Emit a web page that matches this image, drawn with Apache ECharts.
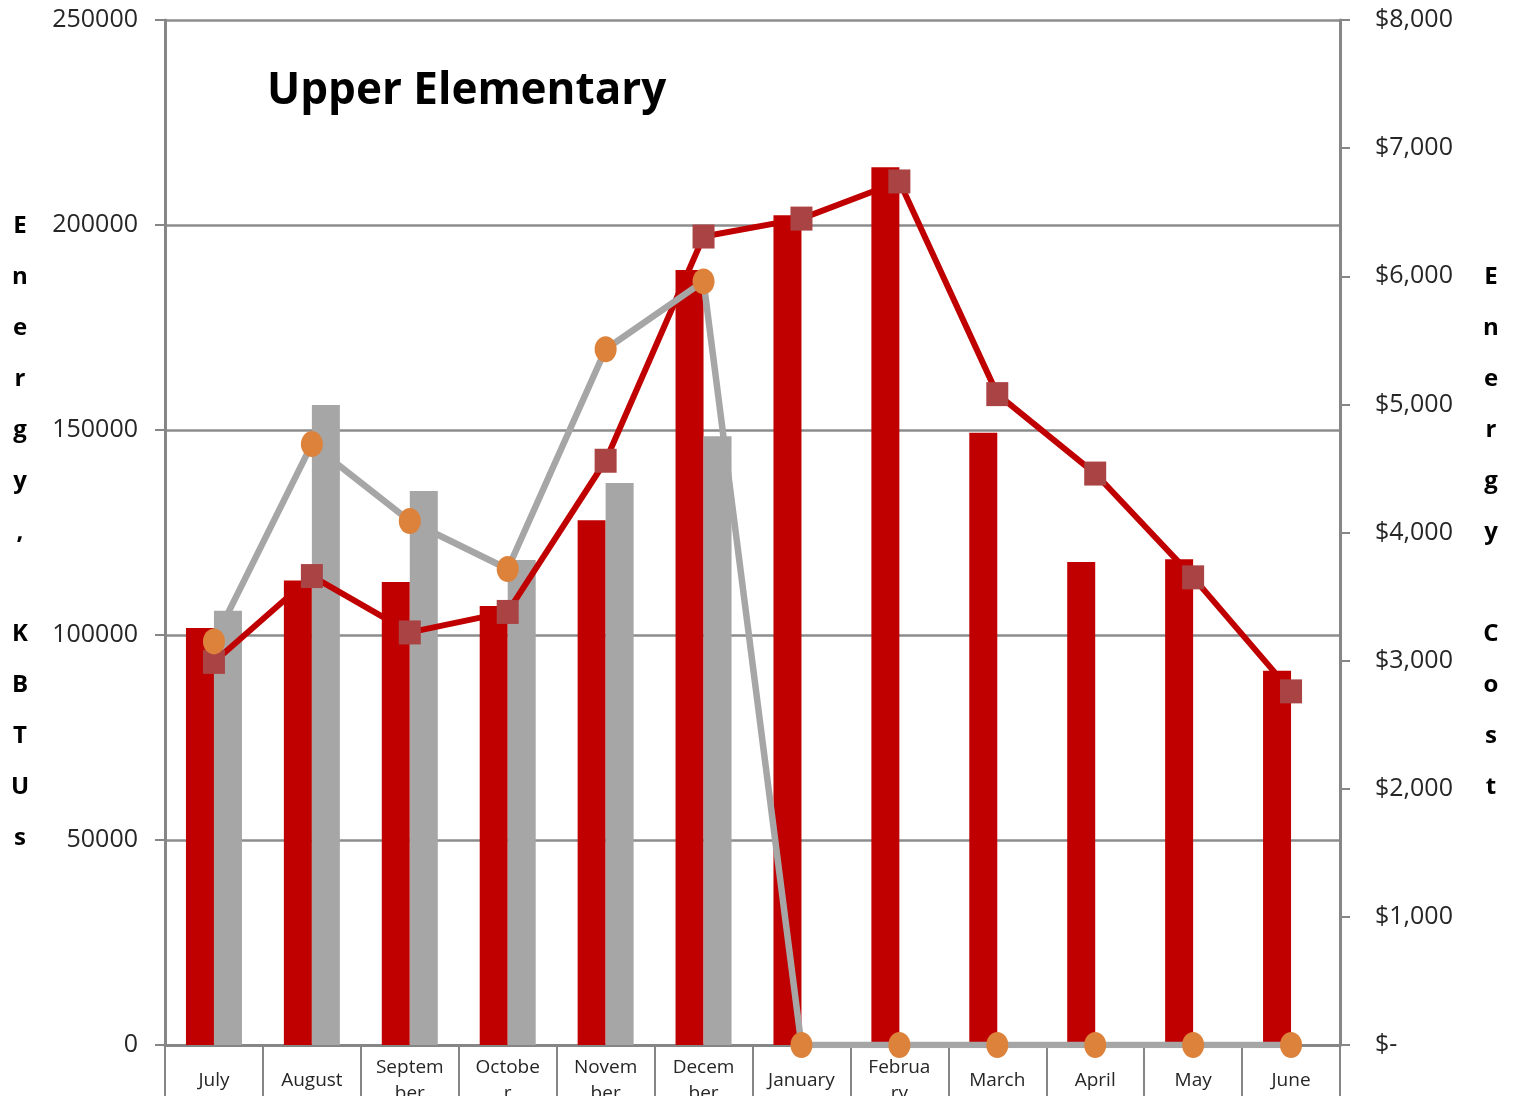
<!DOCTYPE html>
<html>
<head>
<meta charset="utf-8">
<script src="https://cdn.jsdelivr.net/npm/echarts@6/dist/echarts.min.js"></script>
<style>
  html, body { margin: 0; padding: 0; background: #fff; }
  #main { width: 1519px; height: 1096px; }
</style>
</head>
<body>
<div id="main"></div>
<script>
var months = ['July', 'August', 'Septem\nber', 'Octobe\nr', 'Novem\nber', 'Decem\nber', 'January', 'Februa\nry', 'March', 'April', 'May', 'June'];
// energy use, KBTUs
var kbtuThisYear = [101700, 113300, 112900, 107100, 128000, 189000, 202400, 214100, 149300, 117800, 118500, 91300];
var kbtuLastYear = [105900, 156100, 135100, 118300, 137100, 148500, 0, 0, 0, 0, 0, 0];
// energy cost, dollars
var costThisYear = [2990, 3660, 3220, 3380, 4560, 6310, 6450, 6740, 5080, 4460, 3650, 2760];
var costLastYear = [3150, 4690, 4090, 3715, 5430, 5960, 0, 0, 0, 0, 0, 0];

var myChart = echarts.init(document.getElementById('main'));
var axisGray = '#868686';
var labelFont = '"Open Sans", sans-serif';

option = {
    animation: false,
    title: {
        text: 'Upper Elementary',
        left: 262,
        top: 64,
        textStyle: {
            fontFamily: labelFont,
            fontWeight: 'bold',
            fontSize: 44,
            color: '#000'
        }
    },
    grid: {
        left: 165,
        right: 179,
        top: 20,
        bottom: 51,
        containLabel: false,
        outerBoundsMode: 'none'
    },
    xAxis: [
        {
            type: 'category',
            data: months,
            boundaryGap: true,
            axisLine: { lineStyle: { color: axisGray, width: 3 } },
            axisTick: { show: true, length: 60, lineStyle: { color: axisGray, width: 2 } },
            axisLabel: {
                interval: 0,
                margin: 36,
                verticalAlign: 'middle',
                lineHeight: 26,
                fontFamily: labelFont,
                fontSize: 19,
                color: '#262626'
            }
        }
    ],
    yAxis: [
        {
            type: 'value',
            min: 0,
            max: 250000,
            interval: 50000,
            name: 'E\nn\ne\nr\ng\ny\n,\n \nK\nB\nT\nU\ns',
            nameLocation: 'middle',
            nameRotate: 0,
            nameGap: 145,
            nameTextStyle: {
                fontFamily: labelFont,
                fontWeight: 'bold',
                fontSize: 24,
                lineHeight: 51,
                align: 'center',
                verticalAlign: 'middle',
                padding: [12, 0, 0, 0],
                color: '#000'
            },
            axisLine: { show: true, lineStyle: { color: axisGray, width: 3 } },
            axisTick: { show: true, length: 10, lineStyle: { color: axisGray, width: 2 } },
            axisLabel: {
                margin: 27,
                fontFamily: labelFont,
                fontSize: 25,
                color: '#262626',
                formatter: function (v) {
                    return String(v);
                }
            },
            splitLine: { lineStyle: { color: '#8c8c8c', width: 2.5 } }
        },
        {
            type: 'value',
            min: 0,
            max: 8000,
            interval: 1000,
            position: 'right',
            name: 'E\nn\ne\nr\ng\ny\n \nC\no\ns\nt',
            nameLocation: 'middle',
            nameRotate: 0,
            nameGap: 151,
            nameTextStyle: {
                fontFamily: labelFont,
                fontWeight: 'bold',
                fontSize: 24,
                lineHeight: 51,
                align: 'center',
                verticalAlign: 'middle',
                padding: [12, 0, 0, 0],
                color: '#000'
            },
            axisLine: { show: true, lineStyle: { color: axisGray, width: 3 } },
            axisTick: { show: true, length: 10, lineStyle: { color: axisGray, width: 2 } },
            axisLabel: {
                margin: 35,
                fontFamily: labelFont,
                fontSize: 25,
                color: '#262626',
                formatter: function (v) {
                    return v === 0 ? '$-' : '$' + v.toLocaleString('en-US');
                }
            },
            splitLine: { show: false }
        }
    ],
    series: [
        {
            name: 'KBTUs this year',
            type: 'bar',
            barWidth: 28,
            barGap: '0%',
            itemStyle: { color: '#c00000' },
            data: kbtuThisYear
        },
        {
            name: 'KBTUs last year',
            type: 'bar',
            barWidth: 28,
            itemStyle: { color: '#a6a6a6' },
            data: kbtuLastYear
        },
        {
            name: 'Cost this year',
            type: 'line',
            yAxisIndex: 1,
            symbol: 'rect',
            symbolSize: [22, 24],
            lineStyle: { color: '#c00000', width: 6 },
            itemStyle: { color: '#aa4444' },
            data: costThisYear
        },
        {
            name: 'Cost last year',
            type: 'line',
            yAxisIndex: 1,
            symbol: 'circle',
            symbolSize: [22, 26],
            lineStyle: { color: '#a6a6a6', width: 6.5 },
            itemStyle: { color: '#dd823b' },
            data: costLastYear
        }
    ]
};

myChart.setOption(option);
</script>
</body>
</html>
